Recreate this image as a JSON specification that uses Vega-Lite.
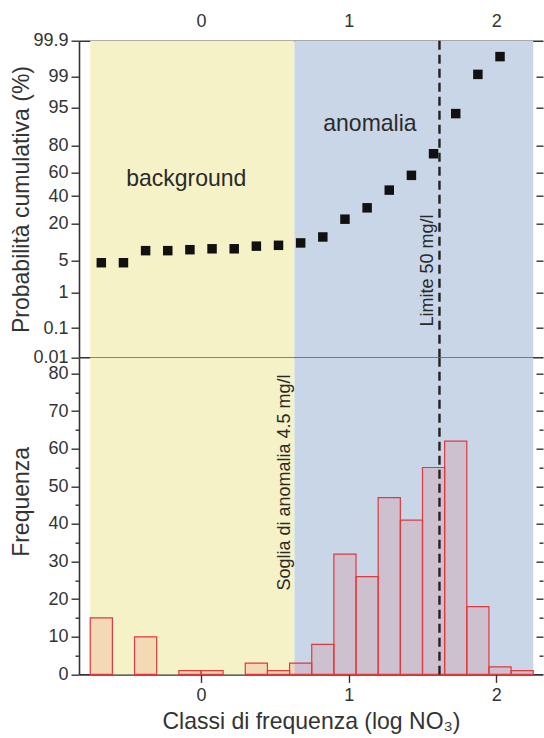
{
  "$schema": "https://vega.github.io/schema/vega-lite/v6.json",
  "padding": {"left": 10, "top": 12.7, "right": 0, "bottom": 0},
  "spacing": 0,
  "bounds": "flush",
  "background": "white",
  "config": {
    "font": "Liberation Sans",
    "view": {"stroke": null},
    "axis": {
      "grid": false,
      "domainColor": "#333333",
      "domainWidth": 1.6,
      "tickColor": "#333333",
      "tickWidth": 1.4,
      "labelColor": "#333333",
      "titleColor": "#333333",
      "labelFont": "Liberation Sans",
      "titleFont": "Liberation Sans",
      "labelFontSize": 18,
      "titleFontSize": 23,
      "titleFontWeight": "normal",
      "labelOverlap": false,
      "labelBound": false,
      "labelFlush": false,
      "zindex": 1
    }
  },
  "datasets": {
    "classi": [
      {"classe": -0.675, "da": -0.75, "a": -0.6, "frequenza": 15, "cumulata": 4.6},
      {"classe": -0.525, "da": -0.6, "a": -0.45, "frequenza": 0, "cumulata": 4.6},
      {"classe": -0.375, "da": -0.45, "a": -0.3, "frequenza": 10, "cumulata": 7.7},
      {"classe": -0.225, "da": -0.3, "a": -0.15, "frequenza": 0, "cumulata": 7.7},
      {"classe": -0.075, "da": -0.15, "a": 0.0, "frequenza": 1, "cumulata": 8.0},
      {"classe": 0.075, "da": 0.0, "a": 0.15, "frequenza": 1, "cumulata": 8.3},
      {"classe": 0.225, "da": 0.15, "a": 0.3, "frequenza": 0, "cumulata": 8.3},
      {"classe": 0.375, "da": 0.3, "a": 0.45, "frequenza": 3, "cumulata": 9.2},
      {"classe": 0.525, "da": 0.45, "a": 0.6, "frequenza": 1, "cumulata": 9.5},
      {"classe": 0.675, "da": 0.6, "a": 0.75, "frequenza": 3, "cumulata": 10.4},
      {"classe": 0.825, "da": 0.75, "a": 0.9, "frequenza": 8, "cumulata": 12.9},
      {"classe": 0.975, "da": 0.9, "a": 1.05, "frequenza": 32, "cumulata": 22.7},
      {"classe": 1.125, "da": 1.05, "a": 1.2, "frequenza": 26, "cumulata": 30.7},
      {"classe": 1.275, "da": 1.2, "a": 1.35, "frequenza": 47, "cumulata": 45.1},
      {"classe": 1.425, "da": 1.35, "a": 1.5, "frequenza": 41, "cumulata": 57.7},
      {"classe": 1.575, "da": 1.5, "a": 1.65, "frequenza": 55, "cumulata": 74.5},
      {"classe": 1.725, "da": 1.65, "a": 1.8, "frequenza": 62, "cumulata": 93.6},
      {"classe": 1.875, "da": 1.8, "a": 1.95, "frequenza": 18, "cumulata": 99.1},
      {"classe": 2.025, "da": 1.95, "a": 2.1, "frequenza": 2, "cumulata": 99.7},
      {"classe": 2.175, "da": 2.1, "a": 2.25, "frequenza": 1, "cumulata": null}
    ],
    "zone": [
      {"zona": "background", "da": -0.75, "a": 0.633},
      {"zona": "anomalia", "da": 0.633, "a": 2.25}
    ],
    "limite": [
      {"etichetta": "Limite 50 mg/l", "log_no3": 1.615}
    ]
  },
  "vconcat": [
    {
      "width": 464,
      "height": 316.6,
      "layer": [
        {
          "data": {"name": "zone"},
          "mark": {"type": "rect"},
          "encoding": {
            "x": {
              "field": "da", "type": "quantitative",
              "scale": {"domain": [-0.826, 2.316], "nice": false, "zero": false},
              "axis": {"orient": "top", "values": [0, 1, 2], "tickSize": -9, "labelPadding": 19, "title": null, "labelAngle": 0, "format": "d"}
            },
            "x2": {"field": "a"},
            "color": {
              "field": "zona", "type": "nominal",
              "scale": {"domain": ["background", "anomalia"], "range": ["#f6f2c8", "#c9d6e7"]},
              "legend": null
            }
          }
        },
        {
          "data": {"name": "classi"},
          "transform": [
            {"filter": "isValid(datum.cumulata)"},
            {"calculate": "quantileNormal(datum.cumulata / 100)", "as": "probit"}
          ],
          "mark": {"type": "point", "shape": "square", "filled": true, "size": 90, "color": "#111111", "opacity": 1},
          "encoding": {
            "x": {
              "field": "classe", "type": "quantitative",
              "axis": {"orient": "bottom", "values": [0, 1, 2], "labels": false, "tickSize": -8, "title": null}
            },
            "y": {
              "field": "probit", "type": "quantitative",
              "scale": {"domain": [-3.719, 3.09], "nice": false, "zero": false},
              "axis": {
                "orient": "left",
                "values": [-3.719, -3.09, -2.326, -1.645, -0.842, -0.253, 0.253, 0.842, 1.645, 2.326, 3.09],
                "labelExpr": "format(cumulativeNormal(datum.value) * 100, '.3~r')",
                "tickSize": 8,
                "labelPadding": 3,
                "title": "Probabilità cumulativa (%)",
                "titleX": -58,
                "titleY": 158.3,
                "titleAlign": "center",
                "titleBaseline": "middle",
                "titleAngle": 270
              }
            }
          }
        },
        {
          "data": {"name": "classi"},
          "transform": [
            {"filter": "isValid(datum.cumulata)"},
            {"calculate": "quantileNormal(datum.cumulata / 100)", "as": "probit"}
          ],
          "mark": {"type": "point", "opacity": 0},
          "encoding": {
            "x": {"field": "classe", "type": "quantitative", "axis": null},
            "y": {
              "field": "probit", "type": "quantitative",
              "axis": {
                "orient": "right",
                "values": [-3.09, -2.326, -1.645, -0.842, -0.253, 0.253, 0.842, 1.645, 2.326],
                "labels": false, "tickSize": -7, "domain": false, "title": null
              }
            }
          }
        },
        {
          "data": {"name": "limite"},
          "mark": {"type": "rule", "strokeDash": [9, 5], "strokeWidth": 2.4, "color": "#222222"},
          "encoding": {"x": {"field": "log_no3", "type": "quantitative", "axis": null}}
        },
        {
          "data": {"values": [{}]},
          "mark": {"type": "text", "text": "background", "fontSize": 23, "color": "#2a2a2a"},
          "encoding": {
            "x": {"datum": -0.1, "type": "quantitative", "axis": null},
            "y": {"datum": 0.108, "type": "quantitative", "axis": null}
          }
        },
        {
          "data": {"values": [{}]},
          "mark": {"type": "text", "text": "anomalia", "fontSize": 23, "color": "#2a2a2a"},
          "encoding": {
            "x": {"datum": 1.144, "type": "quantitative", "axis": null},
            "y": {"datum": 1.294, "type": "quantitative", "axis": null}
          }
        },
        {
          "data": {"values": [{}]},
          "mark": {"type": "text", "text": "Limite 50 mg/l", "fontSize": 18, "angle": 270, "color": "#2a2a2a"},
          "encoding": {
            "x": {"datum": 1.539, "type": "quantitative", "axis": null},
            "y": {"datum": -1.854, "type": "quantitative", "axis": null}
          }
        }
      ],
      "resolve": {"axis": {"x": "independent", "y": "independent"}}
    },
    {
      "width": 464,
      "height": 316.7,
      "layer": [
        {
          "data": {"name": "zone"},
          "mark": {"type": "rect"},
          "encoding": {
            "x": {
              "field": "da", "type": "quantitative",
              "scale": {"domain": [-0.826, 2.316], "nice": false, "zero": false},
              "axis": null
            },
            "x2": {"field": "a"},
            "color": {
              "field": "zona", "type": "nominal",
              "scale": {"domain": ["background", "anomalia"], "range": ["#f6f2c8", "#c9d6e7"]},
              "legend": null
            }
          }
        },
        {
          "data": {"name": "classi"},
          "transform": [{"filter": "datum.frequenza > 0"}],
          "mark": {"type": "rect", "fill": "#e8474a", "fillOpacity": 0.15, "stroke": "#e0393e", "strokeWidth": 1.2},
          "encoding": {
            "x": {
              "field": "da", "type": "quantitative",
              "axis": {"orient": "bottom", "values": [0, 1, 2], "tickSize": 8, "labelPadding": 4, "format": "d", "title": "Classi di frequenza (log NO₃)", "titlePadding": 6}
            },
            "x2": {"field": "a"},
            "y": {
              "field": "frequenza", "type": "quantitative",
              "scale": {"domain": [0, 84.2], "nice": false, "zero": true},
              "axis": {
                "orient": "left",
                "values": [0, 5, 10, 15, 20, 25, 30, 35, 40, 45, 50, 55, 60, 65, 70, 75, 80],
                "labelExpr": "datum.value % 10 === 0 ? datum.label : ''",
                "tickSize": {"condition": {"test": "datum.value % 10 === 0", "value": 8}, "value": 4},
                "labelPadding": 3,
                "title": "Frequenza",
                "titleX": -58,
                "titleY": 143.7,
                "titleAlign": "center",
                "titleBaseline": "middle",
                "titleAngle": 270
              }
            },
            "y2": {"datum": 0}
          }
        },
        {
          "data": {"name": "classi"},
          "transform": [{"filter": "datum.frequenza > 0"}],
          "mark": {"type": "point", "opacity": 0},
          "encoding": {
            "x": {"field": "classe", "type": "quantitative", "axis": null},
            "y": {
              "field": "frequenza", "type": "quantitative",
              "axis": {
                "orient": "right",
                "values": [5, 10, 15, 20, 25, 30, 35, 40, 45, 50, 55, 60, 65, 70, 75, 80],
                "labels": false,
                "tickSize": {"condition": {"test": "datum.value % 10 === 0", "value": -7}, "value": -4},
                "domain": false, "title": null
              }
            }
          }
        },
        {
          "data": {"name": "limite"},
          "mark": {"type": "rule", "strokeDash": [9, 5], "strokeWidth": 2.4, "color": "#222222"},
          "encoding": {"x": {"field": "log_no3", "type": "quantitative", "axis": null}}
        },
        {
          "data": {"values": [{}]},
          "mark": {"type": "text", "text": "Soglia di anomalia 4.5 mg/l", "fontSize": 18, "angle": 270, "color": "#2a2a2a"},
          "encoding": {
            "x": {"datum": 0.567, "type": "quantitative", "axis": null},
            "y": {"datum": 51, "type": "quantitative", "axis": null}
          }
        }
      ],
      "resolve": {"axis": {"x": "independent", "y": "independent"}}
    }
  ]
}
